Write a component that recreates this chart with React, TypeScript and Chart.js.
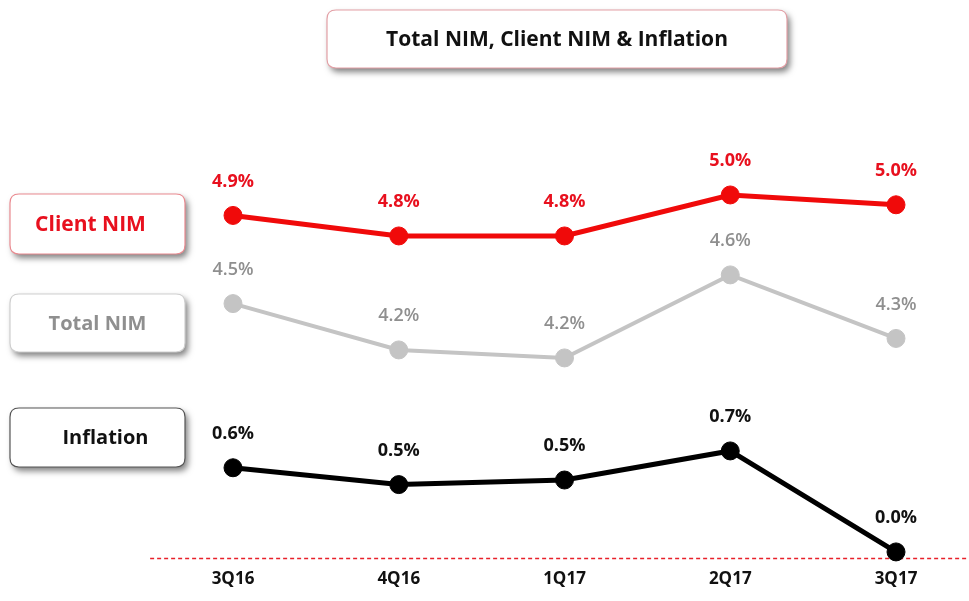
import React, { useEffect, useRef } from "react";
import { Chart, registerables } from "chart.js";

Chart.register(...registerables);

const QUARTERS = ["3Q16", "4Q16", "1Q17", "2Q17", "3Q17"];
const CLIENT_NIM = [4.9, 4.8, 4.8, 5.0, 4.952];
const TOTAL_NIM = [4.47, 4.244, 4.205, 4.61, 4.3];
const INFLATION = [0.59, 0.48, 0.51, 0.7, 0.04];
const ZERO_LINE = 0;

const TITLE = "Total NIM, Client NIM & Inflation";
const SERIES_NAMES = ["Client NIM", "Total NIM", "Inflation"];

const FONT = "'Open Sans', Lato, 'Liberation Sans', sans-serif";
const RED = "#f00a0a";
const RED_TEXT = "#e8101e";
const GRAY = "#c4c4c4";
const GRAY_TEXT = "#8f8f8f";
const BLACK = "#000000";

function roundRect(ctx: CanvasRenderingContext2D, x: number, y: number, w: number, h: number, r: number) {
  ctx.beginPath();
  ctx.moveTo(x + r, y);
  ctx.lineTo(x + w - r, y);
  ctx.quadraticCurveTo(x + w, y, x + w, y + r);
  ctx.lineTo(x + w, y + h - r);
  ctx.quadraticCurveTo(x + w, y + h, x + w - r, y + h);
  ctx.lineTo(x + r, y + h);
  ctx.quadraticCurveTo(x, y + h, x, y + h - r);
  ctx.lineTo(x, y + r);
  ctx.quadraticCurveTo(x, y, x + r, y);
  ctx.closePath();
}

function drawBox(
  ctx: CanvasRenderingContext2D,
  x: number, y: number, w: number, h: number,
  border: string, text: string, color: string, size: number, textDx: number
) {
  ctx.save();
  roundRect(ctx, x, y, w, h, 9);
  ctx.shadowColor = "rgba(0,0,0,0.5)";
  ctx.shadowBlur = 6;
  ctx.shadowOffsetX = 3;
  ctx.shadowOffsetY = 4;
  ctx.fillStyle = "#ffffff";
  ctx.fill();
  ctx.shadowColor = "transparent";
  ctx.lineWidth = 1.2;
  ctx.strokeStyle = border;
  ctx.stroke();
  ctx.fillStyle = color;
  ctx.font = `bold ${size}px ${FONT}`;
  ctx.textAlign = "center";
  ctx.textBaseline = "middle";
  ctx.fillText(text, x + w / 2 + textDx, y + h / 2 + 1);
  ctx.restore();
}

const decorPlugin = {
  id: "decor",
  beforeDatasetsDraw(chart: any) {
    const ctx = chart.ctx as CanvasRenderingContext2D;
    const area = chart.chartArea;
    const xs = chart.scales.x;
    const yi = chart.scales.yInf;
    const step = xs.getPixelForValue(1) - xs.getPixelForValue(0);
    const y0 = yi.getPixelForValue(ZERO_LINE) + 0.5;
    ctx.save();
    ctx.strokeStyle = "#e8202a";
    ctx.lineWidth = 1.5;
    ctx.setLineDash([4, 3]);
    ctx.beginPath();
    ctx.moveTo(area.left - step / 2, y0);
    ctx.lineTo(chart.width, y0);
    ctx.stroke();
    ctx.restore();
    drawBox(ctx, 327, 10, 460, 58, "#e3a0a6", TITLE, "#111111", 21, 0);
    drawBox(ctx, 10, 194, 175, 60, "#ea8a90", SERIES_NAMES[0], RED_TEXT, 21, -7);
    drawBox(ctx, 10, 294, 175, 58, "#cfcfcf", SERIES_NAMES[1], GRAY_TEXT, 20, 0);
    drawBox(ctx, 10, 408, 175, 59, "#555555", SERIES_NAMES[2], "#111111", 20, 8);
  },
  afterDatasetsDraw(chart: any) {
    const ctx = chart.ctx as CanvasRenderingContext2D;
    const styles = [
      { color: RED_TEXT, weight: "bold" },
      { color: GRAY_TEXT, weight: "600" },
      { color: "#111111", weight: "bold" },
    ];
    chart.data.datasets.forEach((ds: any, i: number) => {
      const meta = chart.getDatasetMeta(i);
      ctx.save();
      ctx.fillStyle = styles[i].color;
      ctx.font = `${styles[i].weight} 18px ${FONT}`;
      ctx.textAlign = "center";
      ctx.textBaseline = "middle";
      meta.data.forEach((pt: any, j: number) => {
        ctx.fillText(`${Number(ds.data[j]).toFixed(1)}%`, pt.x, pt.y - 34);
      });
      ctx.restore();
    });
  },
};

export default function App() {
  const ref = useRef<HTMLCanvasElement | null>(null);
  useEffect(() => {
    if (!ref.current) return;
    const chart = new Chart(ref.current, {
      type: "line",
      data: {
        labels: QUARTERS,
        datasets: [
          {
            label: SERIES_NAMES[0],
            data: CLIENT_NIM,
            borderColor: RED,
            backgroundColor: RED,
            borderWidth: 5,
            pointRadius: 9,
            pointBorderWidth: 1,
            pointBorderColor: RED,
            yAxisID: "yNim",
          },
          {
            label: SERIES_NAMES[1],
            data: TOTAL_NIM,
            borderColor: GRAY,
            backgroundColor: GRAY,
            borderWidth: 4,
            pointRadius: 9,
            pointBorderWidth: 1,
            pointBorderColor: GRAY,
            yAxisID: "yNim",
          },
          {
            label: SERIES_NAMES[2],
            data: INFLATION,
            borderColor: BLACK,
            backgroundColor: BLACK,
            borderWidth: 5,
            pointRadius: 9,
            pointBorderWidth: 1,
            pointBorderColor: BLACK,
            yAxisID: "yInf",
          },
        ],
      },
      options: {
        responsive: false,
        animation: false,
        layout: { autoPadding: false, padding: { left: 233, right: 73, top: 0, bottom: 0 } },
        plugins: { legend: { display: false }, tooltip: { enabled: false } },
        scales: {
          x: {
            type: "category",
            offset: false,
            grid: { display: false, drawTicks: false },
            border: { display: false },
            ticks: {
              color: "#111111",
              padding: 3,
              font: { family: FONT, size: 17, weight: "bold" },
              maxRotation: 0,
            },
            afterFit: (s: any) => {
              s.height = 35;
            },
          },
          yNim: { type: "linear", display: false, min: 3.19, max: 5.951 },
          yInf: { type: "linear", display: false, min: -0.052, max: 3.647 },
        },
      },
      plugins: [decorPlugin],
    });
    return () => chart.destroy();
  }, []);
  return (
    <div style={{ position: "fixed", left: 0, top: 0, width: 969, height: 601, background: "#fff" }}>
      <canvas ref={ref} width={969} height={601} />
    </div>
  );
}
